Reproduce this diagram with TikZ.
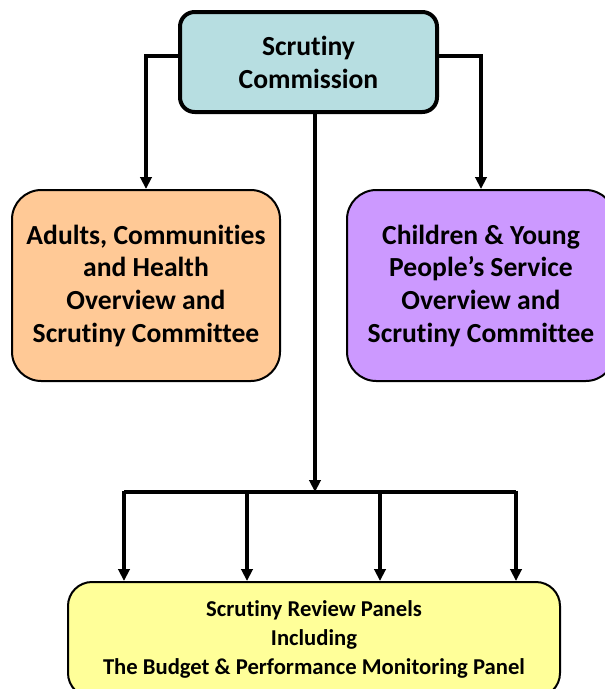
\documentclass[tikz,border=0pt]{standalone}
\usepackage{fontspec}
\setmainfont{Carlito}[RawFeature=-liga]
\usetikzlibrary{arrows.meta}
\definecolor{commcolor}{RGB}{183,222,225}
\definecolor{adultcolor}{RGB}{255,201,150}
\definecolor{childcolor}{RGB}{204,153,255}
\definecolor{panelcolor}{RGB}{255,255,153}
\tikzset{
  box/.style={draw=black, rounded corners=22pt, line width=1.5pt, align=center,
    font=\fontsize{20.7}{24.5}\selectfont\bfseries, inner sep=0pt},
  link/.style={line width=3pt, -{Triangle[length=9pt,width=8.5pt]}},
}
\begin{document}
\begin{tikzpicture}[x=0.75pt,y=-0.75pt]
  \useasboundingbox (0,0) rectangle (605,689);
  \node[box, fill=commcolor, line width=3pt, rounded corners=11pt,
        font=\fontsize{20.7}{24.75}\selectfont\bfseries,
        minimum width=257*0.75pt, minimum height=100*0.75pt] (sc) at (308.5,62)
        {Scrutiny\\Commission};
  \node[box, fill=adultcolor, minimum width=268*0.75pt, minimum height=191*0.75pt]
        (achc) at (146,285.5)
        {Adults, Communities\\and Health\\Overview and\\Scrutiny Committee};
  \node[box, fill=childcolor, minimum width=268*0.75pt, minimum height=191*0.75pt]
        (cyps) at (481,285.5)
        {Children \& Young\\People's Service\\Overview and\\Scrutiny Committee};
  \node[box, fill=panelcolor, rounded corners=18pt, font=\fontsize{17}{21.75}\selectfont\bfseries,
        minimum width=492*0.75pt, inner ysep=14pt, anchor=north] (srp) at (314,581)
        {Scrutiny Review Panels\\Including\\The Budget \& Performance Monitoring Panel};
  % links from the commission
  \draw[link] ([yshift=4.5pt]sc.west) -| (achc.north);
  \draw[link] ([yshift=4.5pt]sc.east) -| (cyps.north);
  \coordinate (bus) at (315,492);
  \draw[link] (sc.south -| bus) -- (bus);
  \coordinate (bl) at (124,492);
  \coordinate (br) at (516,492);
  \draw[line width=3pt, line join=round] (bl) -- (br);
  \foreach \i in {124,247,380,516} { \draw[link] (\i,490.5) -- (\i,581); }
\end{tikzpicture}
\end{document}
